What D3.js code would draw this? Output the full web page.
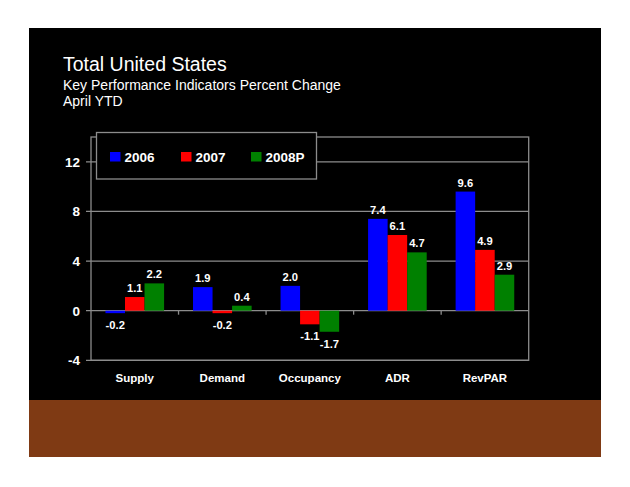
<html>
<head>
<style>
body { margin: 0; padding: 0; background: #fff; }
svg { display: block; font-family: Arial, "Liberation Sans", sans-serif; }
text { fill: #fff; }
.grid line, .frame { stroke: #8c8c8c; stroke-width: 1.3; fill: none; }
</style>
<script src="https://cdnjs.cloudflare.com/ajax/libs/d3/7.8.5/d3.min.js"></script>
</head>
<body>
<svg width="630" height="487"></svg>
<script>
var categories = ['Supply', 'Demand', 'Occupancy', 'ADR', 'RevPAR']
var seriesNames = ['2006', '2007', '2008P']
var seriesColors = ['#0000ff', '#ff0000', '#008000']
var values2006 = [-0.2, 1.9, 2.0, 7.4, 9.6]
var values2007 = [1.1, -0.2, -1.1, 6.1, 4.9]
var values2008 = [2.2, 0.4, -1.7, 4.7, 2.9]
var yTicks = [-4, 0, 4, 8, 12]

var series = [values2006, values2007, values2008]

var svg = d3.select('svg')

// slide background
svg.append('rect').attr('x', 29).attr('y', 28).attr('width', 572).attr('height', 372).attr('fill', '#000')
svg.append('rect').attr('x', 29).attr('y', 400).attr('width', 572).attr('height', 57).attr('fill', '#7f3a14')

// titles
svg.append('text').attr('x', 63).attr('y', 71).style('font-size', '19.5px').text('Total United States')
svg.append('text').attr('x', 63).attr('y', 90).style('font-size', '14px').text('Key Performance Indicators Percent Change')
svg.append('text').attr('x', 63).attr('y', 106).style('font-size', '14px').text('April YTD')

var plotLeft = 91, plotRight = 528.7, plotTop = 137, plotBottom = 360.3

var x = d3.scaleBand().domain(categories).range([plotLeft, plotRight])
var x1 = d3.scaleBand().domain(d3.range(series.length)).range([0, x.bandwidth()]).paddingOuter(0.74)
var y = d3.scaleLinear().domain([-4, 14]).range([plotBottom, plotTop])

// grid
svg.append('g').attr('class', 'grid')
  .selectAll('line')
  .data(yTicks)
  .join('line')
  .attr('x1', plotLeft - 5)
  .attr('x2', plotRight)
  .attr('y1', function(d) { return y(d) })
  .attr('y2', function(d) { return y(d) })

svg.append('rect').attr('class', 'frame')
  .attr('x', plotLeft).attr('y', plotTop)
  .attr('width', plotRight - plotLeft).attr('height', plotBottom - plotTop)

// category ticks on zero line
svg.append('g').attr('class', 'grid')
  .selectAll('line')
  .data(categories.slice(1))
  .join('line')
  .attr('x1', function(d) { return x(d) })
  .attr('x2', function(d) { return x(d) })
  .attr('y1', y(0))
  .attr('y2', y(0) + 4)

// y tick labels
svg.append('g')
  .selectAll('text')
  .data(yTicks)
  .join('text')
  .attr('x', 80)
  .attr('y', function(d) { return y(d) + 5 })
  .attr('text-anchor', 'end')
  .style('font-size', '13.5px')
  .style('font-weight', 'bold')
  .text(function(d) { return d })

// bars
var groups = svg.append('g')
  .selectAll('g')
  .data(series)
  .join('g')
  .attr('fill', function(d, i) { return seriesColors[i] })

groups.each(function(vals, si) {
  var g = d3.select(this)
  g.selectAll('rect')
    .data(vals)
    .join('rect')
    .attr('x', function(d, i) { return x(categories[i]) + x1(si) })
    .attr('width', x1.bandwidth())
    .attr('y', function(d) { return y(Math.max(0, d)) })
    .attr('height', function(d) { return Math.abs(y(d) - y(0)) })

  g.selectAll('text')
    .data(vals)
    .join('text')
    .attr('x', function(d, i) { return x(categories[i]) + x1(si) + x1.bandwidth() / 2 })
    .attr('y', function(d) { return d >= 0 ? y(d) - 5 : y(d) + 16 })
    .attr('text-anchor', 'middle')
    .style('font-size', '11.2px')
    .style('font-weight', 'bold')
    .style('fill', '#fff')
    .text(function(d) { return d.toFixed(1) })
})

// x labels
svg.append('g')
  .selectAll('text')
  .data(categories)
  .join('text')
  .attr('x', function(d) { return x(d) + x.bandwidth() / 2 })
  .attr('y', 382)
  .attr('text-anchor', 'middle')
  .style('font-size', '11.5px')
  .style('font-weight', 'bold')
  .text(function(d) { return d })

// legend
var legend = svg.append('g')
legend.append('rect')
  .attr('x', 96.5).attr('y', 132.5).attr('width', 220).attr('height', 46.5)
  .attr('fill', '#000').attr('stroke', '#8c8c8c').attr('stroke-width', 1.3)

var legendX = [110, 181, 251]
var items = legend.selectAll('g.item')
  .data(seriesNames)
  .join('g')
  .attr('class', 'item')
  .attr('transform', function(d, i) { return 'translate(' + legendX[i] + ',152)' })
items.append('rect')
  .attr('width', 10.5).attr('height', 9.5)
  .attr('fill', function(d, i) { return seriesColors[i] })
items.append('text')
  .attr('x', 14.5).attr('y', 9.5)
  .style('font-size', '13.5px')
  .style('font-weight', 'bold')
  .text(function(d) { return d })
</script>
</body>
</html>
